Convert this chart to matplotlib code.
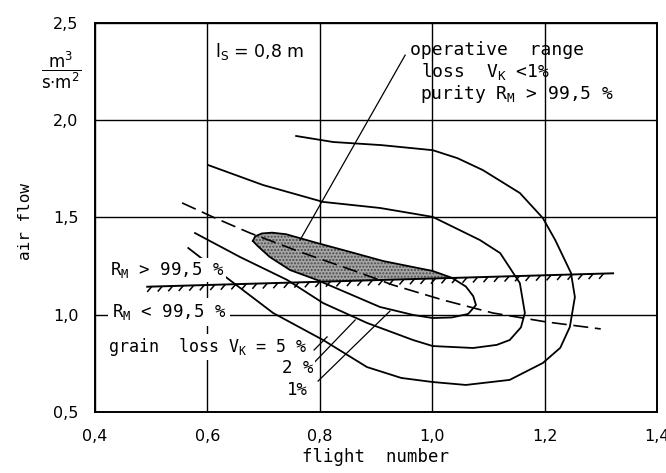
import numpy as np
import matplotlib
matplotlib.use("Agg")
import matplotlib.pyplot as plt
from matplotlib.patches import Polygon
from matplotlib.collections import LineCollection

plt.rcParams.update({'font.family': ['DejaVu Sans'], 'font.size': 11,
                     'mathtext.fontset': 'dejavusans'})
MONO = 'DejaVu Sans Mono'

# --- data ---
xticks = [0.4, 0.6, 0.8, 1.0, 1.2, 1.4]
xtick_labels = ['0,4', '0,6', '0,8', '1,0', '1,2', '1,4']
yticks = [0.5, 1.0, 1.5, 2.0, 2.5]
ytick_labels = ['0,5', '1,0', '1,5', '2,0', '2,5']

# grain loss 5 % (outer curve)
loss5_x = [0.566, 0.635, 0.717, 0.806, 0.884, 0.945, 1.001, 1.060, 1.138, 1.197,
           1.228, 1.245, 1.254, 1.247, 1.219, 1.197, 1.156, 1.090, 1.045, 1.001,
           0.910, 0.824, 0.758]
loss5_y = [1.343, 1.189, 1.009, 0.870, 0.731, 0.675, 0.654, 0.639, 0.665, 0.752,
           0.830, 0.937, 1.091, 1.215, 1.384, 1.497, 1.626, 1.744, 1.805, 1.846,
           1.872, 1.888, 1.919]

# grain loss 2 % (middle curve)
loss2_x = [0.578, 0.658, 0.742, 0.806, 0.884, 0.966, 1.001, 1.073, 1.115, 1.138,
           1.158, 1.165, 1.156, 1.121, 1.085, 1.001, 0.907, 0.806, 0.699, 0.601]
loss2_y = [1.420, 1.297, 1.179, 1.060, 0.958, 0.870, 0.839, 0.829, 0.845, 0.870,
           0.935, 1.009, 1.163, 1.317, 1.384, 1.503, 1.549, 1.580, 1.667, 1.770]

# grain loss 1 % (inner curve, closed)
loss1_x = [0.681, 0.685, 0.697, 0.715, 0.740, 0.795, 0.854, 0.913, 1.001, 1.035,
           1.060, 1.073, 1.078, 1.064, 1.035, 1.001, 0.966, 0.907, 0.824, 0.795,
           0.747, 0.711, 0.690, 0.681]
loss1_y = [1.379, 1.403, 1.418, 1.422, 1.414, 1.369, 1.323, 1.276, 1.225, 1.190,
           1.145, 1.096, 1.050, 1.004, 0.986, 0.983, 0.999, 1.040, 1.143, 1.179,
           1.230, 1.297, 1.352, 1.379]

# dashed line
dash_x = [0.555, 0.614, 0.676, 0.765, 0.872, 0.930, 1.019, 1.108, 1.203, 1.300]
dash_y = [1.575, 1.497, 1.420, 1.323, 1.215, 1.153, 1.076, 1.009, 0.963, 0.927]

# purity limit R_M = 99,5 %
purity_x = [0.493, 1.322]
purity_y = [1.144, 1.213]

# leader lines
lead_op_x, lead_op_y = [0.952, 0.765], [2.335, 1.384]
lead5_x, lead5_y = [0.790, 0.813], [0.819, 0.886]
lead2_x, lead2_y = [0.791, 0.863], [0.757, 0.973]
lead1_x, lead1_y = [0.797, 0.925], [0.659, 1.019]

fig = plt.figure(figsize=(6.66, 4.73), dpi=100)
ax = fig.add_axes([0.1426, 0.1290, 0.8438, 0.8224])

ax.set_xlim(0.4, 1.4)
ax.set_ylim(0.5, 2.5)
ax.set_xticks(xticks)
ax.set_xticklabels(xtick_labels)
ax.set_yticks(yticks)
ax.set_yticklabels(ytick_labels)
ax.tick_params(length=0, pad=12, labelsize=11.5)
for s in ax.spines.values():
    s.set_linewidth(1.4)
ax.grid(True, color='black', linewidth=1.0)
ax.set_axisbelow(True)

# shaded operative range: inside 1 % curve, above purity line
shade = Polygon(np.column_stack([loss1_x, loss1_y]), closed=True,
                facecolor='#a6a6a6', edgecolor='#4a4a4a', hatch='.....',
                linewidth=0, zorder=2)
ax.add_patch(shade)
clip = Polygon([(purity_x[0] - 0.2, purity_y[0] - 0.017), (purity_x[1] + 0.2, purity_y[1] + 0.017),
                (1.6, 3.0), (0.2, 3.0)], closed=True, transform=ax.transData)
shade.set_clip_path(clip)

lw = 1.3
ax.plot(loss5_x, loss5_y, color='black', lw=lw, solid_joinstyle='round', zorder=3)
ax.plot(loss2_x, loss2_y, color='black', lw=lw, solid_joinstyle='round', zorder=3)
ax.plot(loss1_x, loss1_y, color='black', lw=lw, solid_joinstyle='round', zorder=3)
ax.plot(dash_x, dash_y, color='black', lw=1.2, linestyle=(0, (9, 4)), zorder=3)

# purity line with short ticks hanging down-left
ax.plot(purity_x, purity_y, color='black', lw=1.4, zorder=3)
tick_x = np.arange(purity_x[0] + 0.008, purity_x[1], 0.0187)
tick_y = np.interp(tick_x, purity_x, purity_y)
ticks = [[(tx, ty), (tx - 0.008, ty - 0.027)] for tx, ty in zip(tick_x, tick_y)]
ax.add_collection(LineCollection(ticks, colors='black', linewidths=1.1, zorder=3))

for lx, ly in [(lead_op_x, lead_op_y), (lead5_x, lead5_y), (lead2_x, lead2_y), (lead1_x, lead1_y)]:
    ax.plot(lx, ly, color='black', lw=0.9, zorder=3)

wb = dict(facecolor='white', edgecolor='none', pad=1.5)
ax.text(0.6135, 2.351, r'l$_\mathregular{S}$ = 0,8 m', fontsize=12.5,
        ha='left', va='center', bbox=wb, zorder=5)
ax.text(0.9605, 2.361, 'operative  range', family=MONO, fontsize=13, ha='left', va='center', zorder=5)
ax.text(0.980, 2.253, r'loss  V$_\mathregular{K}$ <1%', family=MONO, fontsize=13,
        ha='left', va='center', zorder=5)
ax.text(0.978, 2.135, r'purity R$_\mathregular{M}$ > 99,5 %', family=MONO, fontsize=13,
        ha='left', va='center', zorder=5)
ax.text(0.4267, 1.230, r'R$_\mathregular{M}$ > 99,5 %', family=MONO, fontsize=12.5,
        ha='left', va='center', bbox=wb, zorder=5)
ax.text(0.430, 1.014, r'R$_\mathregular{M}$ < 99,5 %', family=MONO, fontsize=12.5, ha='left', va='center',
        bbox=dict(facecolor='white', edgecolor='none', pad=3), zorder=5)
ax.text(0.423, 0.834, r'grain  loss V$_\mathregular{K}$ = 5 %', family=MONO, fontsize=12,
        ha='left', va='center', bbox=wb, zorder=5)
ax.text(0.788, 0.726, '2 %', family=MONO, fontsize=12.5, ha='right', va='center', bbox=wb, zorder=5)
ax.text(0.779, 0.613, '1%', family=MONO, fontsize=12.5, ha='right', va='center', bbox=wb, zorder=5)

ax.set_xlabel('flight  number', family=MONO, fontsize=12.5, labelpad=3)
ax.set_ylabel('air flow', family=MONO, fontsize=11.5)
ax.yaxis.set_label_coords(-0.11, 0.49)
fig.text(0.092, 0.852, r'$\dfrac{\mathregular{m^3}}{\mathregular{s{\cdot}m^2}}$',
         ha='center', va='center', fontsize=12)

fig.savefig('out.png', dpi=100, facecolor='white')
